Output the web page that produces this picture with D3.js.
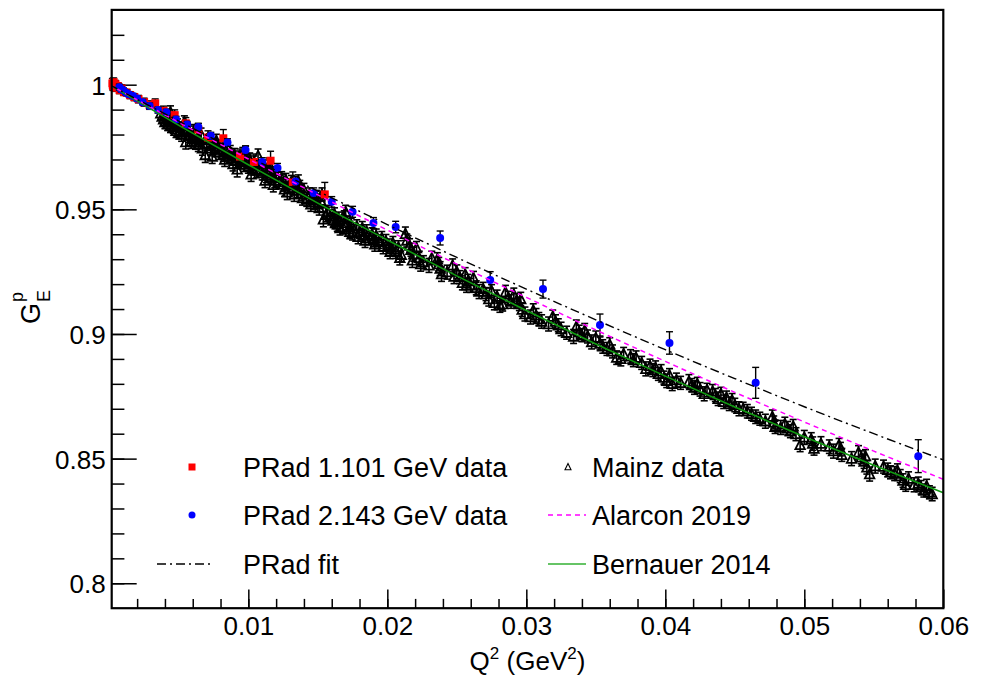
<!DOCTYPE html>
<html>
<head>
<meta charset="utf-8">
<script src="https://cdn.jsdelivr.net/npm/d3@7"></script>
<style>
  body { margin: 0; background: #fff; }
  text { font-family: "Liberation Sans", Arial, Helvetica, sans-serif; fill: #000; }
</style>
</head>
<body>
<svg id="chart" width="990" height="681"></svg>
<script>
// ---------- data ----------
// Mainz A1 measurements: [Q^2 (GeV^2), G_E^p, uncertainty]
const mainzData = [
  [0.0037,0.9885,0.0024],[0.0038,0.9872,0.0025],[0.0039,0.9861,0.0024],[0.0040,0.9850,0.0026],
  [0.0041,0.9876,0.0025],[0.0042,0.9842,0.0026],[0.0043,0.9858,0.0024],[0.0044,0.9835,0.0027],
  [0.0045,0.9848,0.0025],[0.0046,0.9830,0.0026],[0.0047,0.9862,0.0024],[0.0048,0.9815,0.0027],
  [0.0049,0.9838,0.0025],[0.0050,0.9808,0.0026],[0.0051,0.9825,0.0025],[0.0052,0.9800,0.0027],
  [0.0053,0.9818,0.0026],[0.0056,0.9822,0.0025],[0.0057,0.9795,0.0027],[0.0058,0.9808,0.0026],
  [0.0059,0.9772,0.0028],[0.0060,0.9790,0.0026],[0.0061,0.9815,0.0025],[0.0062,0.9768,0.0027],
  [0.0063,0.9785,0.0026],[0.0064,0.9760,0.0028],[0.0065,0.9780,0.0026],[0.0069,0.9718,0.0030],
  [0.0070,0.9762,0.0026],[0.0072,0.9778,0.0025],[0.0073,0.9745,0.0027],[0.0075,0.9760,0.0026],
  [0.0076,0.9740,0.0027],[0.0078,0.9752,0.0026],[0.0079,0.9728,0.0028],[0.0081,0.9740,0.0026],
  [0.0082,0.9720,0.0027],[0.0084,0.9735,0.0026],[0.0086,0.9712,0.0027],[0.0087,0.9730,0.0026],
  [0.0088,0.9705,0.0028],[0.0090,0.9718,0.0026],[0.0091,0.9695,0.0027],[0.0092,0.9660,0.0030],
  [0.0093,0.9708,0.0026],[0.0095,0.9690,0.0027],[0.0096,0.9722,0.0026],[0.0097,0.9680,0.0028],
  [0.0099,0.9695,0.0026],[0.0100,0.9672,0.0027],[0.0101,0.9700,0.0026],[0.0103,0.9665,0.0027],
  [0.0104,0.9688,0.0026],[0.0106,0.9655,0.0028],[0.0107,0.9715,0.0027],[0.0108,0.9660,0.0026],
  [0.0110,0.9645,0.0027],[0.0111,0.9672,0.0026],[0.0113,0.9635,0.0028],[0.0114,0.9652,0.0026],
  [0.0116,0.9628,0.0027],[0.0117,0.9645,0.0026],[0.0119,0.9615,0.0028],[0.0120,0.9638,0.0026],
  [0.0122,0.9610,0.0027],[0.0124,0.9625,0.0026],[0.0125,0.9600,0.0027],[0.0127,0.9618,0.0026],
  [0.0128,0.9568,0.0029],[0.0129,0.9595,0.0027],[0.0131,0.9610,0.0026],[0.0132,0.9585,0.0027],
  [0.0134,0.9598,0.0026],[0.0135,0.9575,0.0027],[0.0137,0.9590,0.0026],[0.0138,0.9562,0.0028],
  [0.0140,0.9578,0.0026],[0.0142,0.9540,0.0028],[0.0144,0.9560,0.0026],[0.0146,0.9545,0.0027],
  [0.0147,0.9528,0.0027],[0.0149,0.9550,0.0026],[0.0150,0.9520,0.0028],[0.0152,0.9535,0.0026],
  [0.0154,0.9460,0.0030],[0.0157,0.9490,0.0026],[0.0159,0.9472,0.0027],[0.0161,0.9455,0.0028],
  [0.0162,0.9480,0.0026],[0.0164,0.9440,0.0028],[0.0165,0.9462,0.0027],[0.0166,0.9425,0.0028],
  [0.0169,0.9468,0.0026],[0.0171,0.9445,0.0027],[0.0172,0.9420,0.0028],[0.0174,0.9438,0.0026],
  [0.0175,0.9405,0.0028],[0.0178,0.9432,0.0026],[0.0180,0.9410,0.0027],[0.0182,0.9425,0.0026],
  [0.0183,0.9395,0.0028],[0.0185,0.9412,0.0026],[0.0187,0.9385,0.0027],[0.0189,0.9400,0.0026],
  [0.0190,0.9378,0.0028],[0.0192,0.9395,0.0026],[0.0194,0.9370,0.0027],[0.0196,0.9385,0.0026],
  [0.0199,0.9372,0.0027],[0.0201,0.9355,0.0026],[0.0203,0.9340,0.0028],[0.0204,0.9365,0.0026],
  [0.0206,0.9330,0.0027],[0.0208,0.9348,0.0026],[0.0210,0.9318,0.0028],[0.0213,0.9402,0.0027],
  [0.0214,0.9375,0.0026],[0.0216,0.9355,0.0027],[0.0217,0.9338,0.0026],[0.0219,0.9320,0.0028],
  [0.0221,0.9345,0.0026],[0.0223,0.9305,0.0027],[0.0226,0.9288,0.0026],[0.0232,0.9305,0.0027],
  [0.0236,0.9300,0.0026],[0.0237,0.9280,0.0027],[0.0238,0.9262,0.0028],[0.0239,0.9240,0.0029],
  [0.0247,0.9275,0.0026],[0.0250,0.9250,0.0027],[0.0252,0.9228,0.0026],[0.0254,0.9205,0.0028],
  [0.0256,0.9240,0.0026],[0.0258,0.9212,0.0027],[0.0260,0.9195,0.0028],[0.0262,0.9225,0.0026],
  [0.0264,0.9185,0.0028],[0.0269,0.9180,0.0027],[0.0271,0.9160,0.0026],[0.0273,0.9140,0.0028],
  [0.0275,0.9172,0.0026],[0.0277,0.9125,0.0028],[0.0279,0.9150,0.0026],[0.0281,0.9115,0.0028],
  [0.0285,0.9168,0.0027],[0.0287,0.9145,0.0026],[0.0289,0.9130,0.0027],[0.0291,0.9158,0.0026],
  [0.0293,0.9135,0.0027],[0.0295,0.9120,0.0026],[0.0297,0.9098,0.0027],[0.0299,0.9080,0.0028],
  [0.0305,0.9095,0.0026],[0.0307,0.9075,0.0027],[0.0309,0.9060,0.0026],[0.0311,0.9050,0.0027],
  [0.0319,0.9070,0.0026],[0.0321,0.9050,0.0027],[0.0323,0.9035,0.0026],[0.0325,0.9020,0.0027],
  [0.0329,0.9005,0.0026],[0.0336,0.9030,0.0026],[0.0338,0.9008,0.0027],[0.0340,0.8995,0.0026],
  [0.0342,0.9015,0.0027],[0.0344,0.8990,0.0026],[0.0350,0.8985,0.0027],[0.0353,0.8962,0.0026],
  [0.0355,0.8950,0.0027],[0.0358,0.8940,0.0026],[0.0360,0.8958,0.0027],[0.0362,0.8930,0.0026],
  [0.0365,0.8905,0.0027],[0.0370,0.8920,0.0026],[0.0375,0.8910,0.0027],[0.0377,0.8895,0.0026],
  [0.0379,0.8905,0.0027],[0.0383,0.8884,0.0026],[0.0389,0.8872,0.0027],[0.0391,0.8855,0.0026],
  [0.0393,0.8865,0.0027],[0.0395,0.8840,0.0026],[0.0397,0.8850,0.0027],[0.0399,0.8825,0.0026],
  [0.0401,0.8812,0.0027],[0.0403,0.8835,0.0026],[0.0405,0.8800,0.0027],[0.0411,0.8804,0.0026],
  [0.0417,0.8810,0.0027],[0.0419,0.8795,0.0026],[0.0421,0.8785,0.0027],[0.0423,0.8800,0.0026],
  [0.0425,0.8778,0.0027],[0.0430,0.8776,0.0026],[0.0434,0.8770,0.0027],[0.0436,0.8755,0.0026],
  [0.0438,0.8740,0.0027],[0.0440,0.8760,0.0026],[0.0442,0.8728,0.0027],[0.0444,0.8745,0.0026],
  [0.0446,0.8720,0.0027],[0.0448,0.8735,0.0026],[0.0450,0.8715,0.0027],[0.0456,0.8700,0.0026],
  [0.0459,0.8690,0.0027],[0.0462,0.8680,0.0026],[0.0465,0.8668,0.0027],[0.0468,0.8660,0.0026],
  [0.0477,0.8668,0.0027],[0.0478,0.8645,0.0026],[0.0479,0.8628,0.0027],[0.0486,0.8640,0.0026],
  [0.0488,0.8622,0.0027],[0.0490,0.8610,0.0026],[0.0492,0.8630,0.0027],[0.0494,0.8598,0.0026],
  [0.0497,0.8555,0.0027],[0.0505,0.8578,0.0026],[0.0506,0.8560,0.0027],[0.0507,0.8540,0.0026],
  [0.0518,0.8548,0.0027],[0.0525,0.8555,0.0026],[0.0526,0.8538,0.0027],[0.0527,0.8515,0.0026],
  [0.0539,0.8525,0.0027],[0.0541,0.8505,0.0026],[0.0543,0.8488,0.0027],[0.0544,0.8510,0.0026],
  [0.0545,0.8465,0.0027],[0.0547,0.8438,0.0028],[0.0557,0.8468,0.0026],[0.0560,0.8455,0.0027],
  [0.0562,0.8445,0.0026],[0.0567,0.8452,0.0027],[0.0569,0.8430,0.0026],[0.0571,0.8412,0.0027],
  [0.0573,0.8395,0.0026],[0.0575,0.8420,0.0027],[0.0582,0.8400,0.0026],[0.0584,0.8385,0.0027],
  [0.0586,0.8372,0.0026],[0.0588,0.8390,0.0027],[0.0590,0.8365,0.0026],[0.0592,0.8358,0.0027],
  // further settings of the same beam energies
  [0.0044,0.9890,0.0025],[0.0054,0.9850,0.0025],[0.0055,0.9770,0.0028],[0.0066,0.9800,0.0026],
  [0.0067,0.9745,0.0028],[0.0074,0.9712,0.0028],[0.0077,0.9775,0.0026],[0.0083,0.9700,0.0028],
  [0.0089,0.9682,0.0028],[0.0098,0.9728,0.0026],[0.0102,0.9640,0.0028],[0.0112,0.9615,0.0028],
  [0.0115,0.9680,0.0026],[0.0118,0.9598,0.0028],[0.0126,0.9580,0.0028],[0.0133,0.9560,0.0028],
  [0.0136,0.9612,0.0026],[0.0139,0.9545,0.0028],[0.0145,0.9520,0.0028],[0.0151,0.9505,0.0028],
  [0.0153,0.9560,0.0026],[0.0156,0.9478,0.0028],[0.0163,0.9450,0.0028],[0.0168,0.9430,0.0028],
  [0.0170,0.9490,0.0026],[0.0173,0.9410,0.0028],[0.0179,0.9390,0.0028],[0.0184,0.9375,0.0028],
  [0.0191,0.9360,0.0028],[0.0197,0.9350,0.0028],[0.0202,0.9330,0.0028],[0.0209,0.9305,0.0028],
  [0.0218,0.9295,0.0028],[0.0224,0.9280,0.0028],[0.0230,0.9275,0.0028],[0.0243,0.9248,0.0028],
  [0.0248,0.9230,0.0028],[0.0257,0.9195,0.0028],[0.0266,0.9170,0.0028],[0.0283,0.9120,0.0028],
  [0.0296,0.9140,0.0027],[0.0303,0.9068,0.0028],[0.0316,0.9040,0.0028],[0.0334,0.8990,0.0028],
  [0.0347,0.8968,0.0028],[0.0368,0.8900,0.0028],[0.0386,0.8860,0.0028],[0.0408,0.8815,0.0028],
  [0.0428,0.8760,0.0028],[0.0453,0.8700,0.0028],[0.0472,0.8650,0.0028],[0.0483,0.8625,0.0028],
  [0.0500,0.8585,0.0028],[0.0512,0.8560,0.0028],[0.0521,0.8530,0.0028],[0.0534,0.8500,0.0028],
  [0.0551,0.8470,0.0028],[0.0565,0.8440,0.0028],[0.0579,0.8395,0.0028]
];

// PRad, 1.101 GeV beam: [Q^2, G_E^p, uncertainty]
const prad1GeV = [
  [0.00022,1.0005,0.0020],[0.00026,0.9995,0.0018],[0.00031,1.0010,0.0017],[0.00037,0.9990,0.0016],
  [0.00044,1.0002,0.0015],[0.00052,0.9988,0.0015],[0.00062,0.9994,0.0014],[0.00074,0.9978,0.0014],
  [0.00088,0.9985,0.0014],[0.00105,0.9970,0.0013],[0.00125,0.9968,0.0013],[0.0015,0.9958,0.0014],
  [0.0018,0.9950,0.0014],[0.0021,0.9942,0.0015],[0.0025,0.9930,0.0016],[0.0029,0.9918,0.0017],
  [0.0033,0.9925,0.0018],[0.0039,0.9895,0.0019],[0.0047,0.9878,0.0021],[0.0055,0.9845,0.0023],
  [0.0064,0.9820,0.0025],[0.0071,0.9788,0.0027],[0.0082,0.9785,0.0035],[0.0094,0.9712,0.0030],
  [0.0104,0.9690,0.0032],[0.0116,0.9695,0.0038],[0.0132,0.9610,0.0040],[0.0155,0.9560,0.0048]
];

// PRad, 2.143 GeV beam: [Q^2, G_E^p, uncertainty]
const prad2GeV = [
  [0.00072,0.9990,0.0012],[0.00085,0.9982,0.0011],[0.0010,0.9978,0.0010],[0.0012,0.9968,0.0010],
  [0.0014,0.9962,0.0010],[0.0017,0.9955,0.0010],[0.0020,0.9945,0.0010],[0.0024,0.9930,0.0011],
  [0.0029,0.9915,0.0011],[0.0035,0.9898,0.0012],[0.0041,0.9889,0.0012],[0.0048,0.9860,0.0013],
  [0.0056,0.9840,0.0013],[0.0064,0.9830,0.0014],[0.0073,0.9795,0.0014],[0.0085,0.9768,0.0015],
  [0.0098,0.9738,0.0016],[0.0110,0.9690,0.0017],[0.0121,0.9666,0.0018],[0.0134,0.9612,0.0019],
  [0.0147,0.9566,0.0020],[0.0160,0.9530,0.0021],[0.0175,0.9490,0.0022],[0.0190,0.9445,0.0022],
  [0.0206,0.9429,0.0023],[0.0238,0.9385,0.0028],[0.0274,0.9217,0.0033],[0.0312,0.9180,0.0036],
  [0.0353,0.9036,0.0044],[0.0403,0.8964,0.0045],[0.0465,0.8804,0.0062],[0.0582,0.8510,0.0066]
];

// Model curves sampled on a common Q^2 grid
const curveQ2       = [0, 0.005, 0.01, 0.015, 0.02, 0.025, 0.03, 0.035, 0.04, 0.045, 0.05, 0.055, 0.06];
const pradFit       = [1, 0.9854, 0.9712, 0.9573, 0.9439, 0.9307, 0.9180, 0.9057, 0.8937, 0.8821, 0.8708, 0.8600, 0.8495];
const alarcon2019   = [1, 0.9849, 0.9702, 0.9558, 0.9417, 0.9280, 0.9147, 0.9016, 0.8890, 0.8766, 0.8647, 0.8530, 0.8417];
const bernauer2014  = [1, 0.9837, 0.9679, 0.9525, 0.9377, 0.9233, 0.9094, 0.8960, 0.8831, 0.8707, 0.8588, 0.8473, 0.8363];

// Axis ticks
const xTickValues = [0.01, 0.02, 0.03, 0.04, 0.05, 0.06];
const xTickLabels = ["0.01", "0.02", "0.03", "0.04", "0.05", "0.06"];
const yTickValues = [0.8, 0.85, 0.9, 0.95, 1.0];
const yTickLabels = ["0.8", "0.85", "0.9", "0.95", "1"];

// ---------- layout ----------
const svg = d3.select("#chart");
const W = 990, H = 681;
const frameL = 111.7, frameR = 943.3, frameT = 9.9, frameB = 608.2;

svg.append("rect").attr("width", W).attr("height", H).attr("fill", "#fff");

const x = d3.scaleLinear().domain([0.00017, 0.06]).range([frameL, frameR]);
const y = d3.scaleLinear().domain([0.79, 1.03]).range([frameB, frameT]);

svg.append("defs").append("clipPath").attr("id", "plotClip")
  .append("rect").attr("x", frameL).attr("y", frameT)
  .attr("width", frameR - frameL).attr("height", frameB - frameT);

// ---------- axes ----------
const fontSize = 26;
function styleAxis(g) {
  g.select(".domain").remove();
  g.selectAll(".tick line").attr("stroke", "#000").attr("stroke-width", 1.5);
  g.selectAll(".tick text").attr("font-size", fontSize)
    .attr("font-family", '"Liberation Sans", Arial, Helvetica, sans-serif').attr("fill", "#000");
}

// y minor ticks
const yMinor = d3.range(80, 103).map(v => v / 100);
svg.append("g").attr("transform", `translate(${frameL},0)`)
  .call(d3.axisLeft(y).tickValues(yMinor).tickFormat("").tickSize(-12.7))
  .call(styleAxis);
// y major ticks
svg.append("g").attr("transform", `translate(${frameL},0)`)
  .call(d3.axisLeft(y).tickValues(yTickValues)
    .tickFormat((d, i) => yTickLabels[i]).tickSize(-25).tickPadding(6))
  .call(styleAxis)
  .call(g => g.selectAll(".tick text").attr("dy", "0.36em"));

// x minor ticks
const xMinor = d3.range(1, 30).map(v => v * 0.002);
svg.append("g").attr("transform", `translate(0,${frameB})`)
  .call(d3.axisBottom(x).tickValues(xMinor).tickFormat("").tickSize(-9.3))
  .call(styleAxis);
// x major ticks
svg.append("g").attr("transform", `translate(0,${frameB})`)
  .call(d3.axisBottom(x).tickValues(xTickValues)
    .tickFormat((d, i) => xTickLabels[i]).tickSize(-18.7).tickPadding(8))
  .call(styleAxis);

// ---------- data layers ----------
const plot = svg.append("g");

function errorBars(g, data, cap, width) {
  const sel = g.selectAll(null).data(data).enter().append("g")
    .attr("stroke", "#000").attr("stroke-width", width).attr("fill", "none");
  sel.append("line")
    .attr("x1", d => x(d[0])).attr("x2", d => x(d[0]))
    .attr("y1", d => y(d[1] + d[2])).attr("y2", d => y(d[1] - d[2]));
  sel.append("line")
    .attr("x1", d => x(d[0]) - cap).attr("x2", d => x(d[0]) + cap)
    .attr("y1", d => y(d[1] + d[2])).attr("y2", d => y(d[1] + d[2]));
  sel.append("line")
    .attr("x1", d => x(d[0]) - cap).attr("x2", d => x(d[0]) + cap)
    .attr("y1", d => y(d[1] - d[2])).attr("y2", d => y(d[1] - d[2]));
}

function triPath(s) {
  // open upward triangle centred on the point
  const h = s * 0.9;
  return `M0,${-h / 2 - 0.8}L${s / 2},${h / 2}L${-s / 2},${h / 2}Z`;
}

// Mainz
const mainzG = plot.append("g");
errorBars(mainzG, mainzData, 3.5, 1.6);
mainzG.selectAll("path.mk").data(mainzData).enter().append("path")
  .attr("class", "mk")
  .attr("d", triPath(9.5))
  .attr("transform", d => `translate(${x(d[0])},${y(d[1])})`)
  .attr("fill", "none").attr("stroke", "#000").attr("stroke-width", 1.8)
  .attr("stroke-linejoin", "miter");

// PRad 1.101 GeV
const p1G = plot.append("g");
errorBars(p1G, prad1GeV, 3.5, 1.4);
p1G.selectAll("rect.mk").data(prad1GeV).enter().append("rect")
  .attr("class", "mk")
  .attr("x", d => x(d[0]) - 4).attr("y", d => y(d[1]) - 4)
  .attr("width", 8).attr("height", 8).attr("fill", "#ff0000");

// PRad 2.143 GeV
const p2G = plot.append("g");
errorBars(p2G, prad2GeV, 3.5, 1.4);
p2G.selectAll("circle.mk").data(prad2GeV).enter().append("circle")
  .attr("class", "mk")
  .attr("cx", d => x(d[0])).attr("cy", d => y(d[1]))
  .attr("r", 4).attr("fill", "#0000ff");

// curves
const curveLayer = svg.append("g").attr("clip-path", "url(#plotClip)");
const line = d3.line().x(d => x(d[0])).y(d => y(d[1])).curve(d3.curveMonotoneX);
function curve(values, color, dash, width) {
  curveLayer.append("path")
    .datum(curveQ2.map((q, i) => [q, values[i]]))
    .attr("d", line).attr("fill", "none")
    .attr("stroke", color).attr("stroke-width", width)
    .attr("stroke-dasharray", dash);
}
curve(bernauer2014, "#109a10", null, 1.6);
curve(alarcon2019, "#ff00ff", "5,4", 1.5);
curve(pradFit, "#000", "9,4,2,4", 1.4);

// ---------- frame ----------
svg.append("rect").attr("x", frameL).attr("y", frameT)
  .attr("width", frameR - frameL).attr("height", frameB - frameT)
  .attr("fill", "none").attr("stroke", "#000").attr("stroke-width", 2.2);

// ---------- legend ----------
const leg = svg.append("g");
const legFont = 27;
const legRows = [467, 515, 564];
const col1Text = 243, col2Text = 592;
function legText(tx, ty, s) {
  leg.append("text").attr("x", tx).attr("y", ty + 9.5)
    .attr("font-size", legFont).text(s);
}
// column 1
leg.append("rect").attr("x", 192 - 3.5).attr("y", legRows[0] - 3.5)
  .attr("width", 7).attr("height", 7).attr("fill", "#ff0000");
legText(col1Text, legRows[0], "PRad 1.101 GeV data");
leg.append("circle").attr("cx", 192).attr("cy", legRows[1]).attr("r", 3.5).attr("fill", "#0000ff");
legText(col1Text, legRows[1], "PRad 2.143 GeV data");
leg.append("line").attr("x1", 157).attr("x2", 212).attr("y1", legRows[2]).attr("y2", legRows[2])
  .attr("stroke", "#000").attr("stroke-width", 1.4).attr("stroke-dasharray", "9,4,2,4");
legText(col1Text, legRows[2], "PRad fit");
// column 2
leg.append("path").attr("d", triPath(6))
  .attr("transform", `translate(568,${legRows[0]})`)
  .attr("fill", "none").attr("stroke", "#000").attr("stroke-width", 1.1);
legText(col2Text, legRows[0], "Mainz data");
leg.append("line").attr("x1", 548).attr("x2", 586).attr("y1", legRows[1]).attr("y2", legRows[1])
  .attr("stroke", "#ff00ff").attr("stroke-width", 1.5).attr("stroke-dasharray", "5,4");
legText(col2Text, legRows[1], "Alarcon 2019");
leg.append("line").attr("x1", 548).attr("x2", 586).attr("y1", legRows[2]).attr("y2", legRows[2])
  .attr("stroke", "#33b033").attr("stroke-width", 1.6);
legText(col2Text, legRows[2], "Bernauer 2014");

// ---------- axis titles ----------
const xt = svg.append("text").attr("x", (frameL + frameR) / 2).attr("y", 670)
  .attr("text-anchor", "middle").attr("font-size", 26);
xt.append("tspan").text("Q");
xt.append("tspan").attr("font-size", 17).attr("dy", -11).text("2");
xt.append("tspan").attr("dy", 11).text(" (GeV");
xt.append("tspan").attr("font-size", 17).attr("dy", -11).text("2");
xt.append("tspan").attr("dy", 11).text(")");

const yt = svg.append("g").attr("transform", "translate(40,324) rotate(-90)");
yt.append("text").attr("x", 0).attr("y", 0).attr("font-size", 27).text("G");
yt.append("text").attr("x", 22).attr("y", 10).attr("font-size", 18).text("E");
yt.append("text").attr("x", 22).attr("y", -17).attr("font-size", 18).text("p");
</script>
</body>
</html>
